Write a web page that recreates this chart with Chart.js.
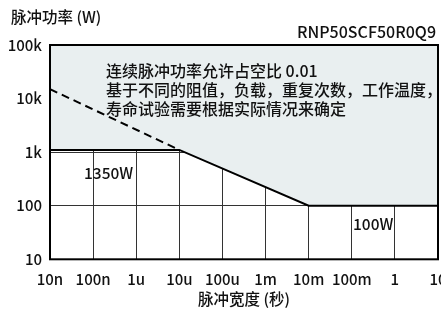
<!DOCTYPE html>
<html>
<head>
<meta charset="utf-8">
<script src="https://cdn.jsdelivr.net/npm/chart.js@4.4.1/dist/chart.umd.min.js"></script>
<style>
    html, body { margin: 0; padding: 0; background: #fff; }
    #wrap { width: 441px; height: 312px; }
</style>
</head>
<body>
<div id="wrap"><canvas id="pulseChart" width="441" height="312"></canvas></div>
<script>
const FONT = '"Noto Sans CJK SC", "Noto Sans", sans-serif';

// pulse width (s) / pulse power (W)
const limitWidths = [1e-8, 1e-5, 1e-2, 10];
const limitPowers = [1100, 1100, 100, 100];

const dashWidths = [1e-8, 1e-5];
const dashPowers = [15000, 1100];

const xTickValues = [1e-8, 1e-7, 1e-6, 1e-5, 1e-4, 1e-3, 1e-2, 1e-1, 1, 10];
const xTickLabels = ["10n", "100n", "1u", "10u", "100u", "1m", "10m", "100m", "1", "10"];
const yTickValues = [10, 100, 1000, 10000, 100000];
const yTickLabels = ["10", "100", "1k", "10k", "100k"];

const noteLines = [
    "连续脉冲功率允许占空比 0.01",
    "基于不同的阻值，负载，重复次数，工作温度，",
    "寿命试验需要根据实际情况来确定"
];

function toPoints(xs, ys) {
    return xs.map((x, i) => ({ x: x, y: ys[i] }));
}

const textPlugin = {
    id: "texts",
    afterDraw(chart) {
        const ctx = chart.ctx;
        const area = chart.chartArea;

        ctx.save();

        // frame
        ctx.strokeStyle = "#000";
        ctx.lineWidth = 2;
        ctx.strokeRect(area.left, area.top, area.right - area.left, area.bottom - area.top);

        ctx.fillStyle = "#111";
        ctx.textBaseline = "middle";

        ctx.font = "500 15.5px " + FONT;
        ctx.textAlign = "left";
        ctx.fillText("脉冲功率 (W)", 11, 17);

        ctx.textAlign = "right";
        ctx.font = "500 16px " + FONT;
        ctx.fillText("RNP50SCF50R0Q9", 436, 32);

        ctx.textAlign = "left";
        ctx.font = "500 16px " + FONT;
        noteLines.forEach((line, i) => {
            ctx.fillText(line, 106, 71 + i * 18.8);
        });

        ctx.font = "500 15.5px " + FONT;
        ctx.fillText("1350W", 84, 173);
        ctx.fillText("100W", 353, 224);

        ctx.restore();
    }
};

new Chart(document.getElementById("pulseChart"), {

    type: "line",

    data: {
        datasets: [
            {
                label: "limit",
                data: toPoints(limitWidths, limitPowers),
                borderColor: "#000",
                borderWidth: 2,
                backgroundColor: "#e9eff0",
                fill: "end",
                pointRadius: 0,
                tension: 0,
                order: 1
            },
            {
                label: "dashed",
                data: toPoints(dashWidths, dashPowers),
                borderColor: "#000",
                borderWidth: 2,
                borderDash: [8, 5],
                fill: false,
                pointRadius: 0,
                tension: 0,
                order: 0
            }
        ]
    },

    options: {
        responsive: false,
        animation: false,
        layout: {
            padding: { top: 45, left: 0, right: 3, bottom: 0 }
        },
        plugins: {
            legend: { display: false },
            tooltip: { enabled: false }
        },
        scales: {
            x: {
                type: "logarithmic",
                min: 1e-8,
                max: 10,
                z: 1,
                grid: { color: "#333", lineWidth: 1, drawTicks: false },
                border: { display: false },
                afterBuildTicks(scale) {
                    scale.ticks = xTickValues.map(v => ({ value: v }));
                },
                ticks: {
                    autoSkip: false,
                    maxRotation: 0,
                    padding: 11,
                    color: "#111",
                    font: { family: FONT, size: 15, weight: "500" },
                    callback(value) {
                        const i = xTickValues.findIndex(v => Math.abs(v - value) / v < 1e-6);
                        return i >= 0 ? xTickLabels[i] : "";
                    }
                },
                title: {
                    display: true,
                    text: "脉冲宽度 (秒)",
                    color: "#111",
                    font: { family: FONT, size: 15.5, weight: "500" },
                    padding: { top: 0, bottom: 4 }
                },
                afterFit(scale) {
                    scale.height = 52.7;
                    scale.paddingLeft = 0;
                    scale.paddingRight = 0;
                }
            },
            y: {
                type: "logarithmic",
                min: 10,
                max: 100000,
                z: 1,
                grid: { color: "#333", lineWidth: 1, drawTicks: false },
                border: { display: false },
                afterBuildTicks(scale) {
                    scale.ticks = yTickValues.map(v => ({ value: v }));
                },
                ticks: {
                    autoSkip: false,
                    padding: 8,
                    color: "#111",
                    font: { family: FONT, size: 15, weight: "500" },
                    callback(value) {
                        const i = yTickValues.findIndex(v => Math.abs(v - value) / v < 1e-6);
                        return i >= 0 ? yTickLabels[i] : "";
                    }
                },
                afterFit(scale) {
                    scale.width = 50;
                    scale.paddingTop = 0;
                    scale.paddingBottom = 0;
                }
            }
        }
    },

    plugins: [textPlugin]

});
</script>
</body>
</html>
